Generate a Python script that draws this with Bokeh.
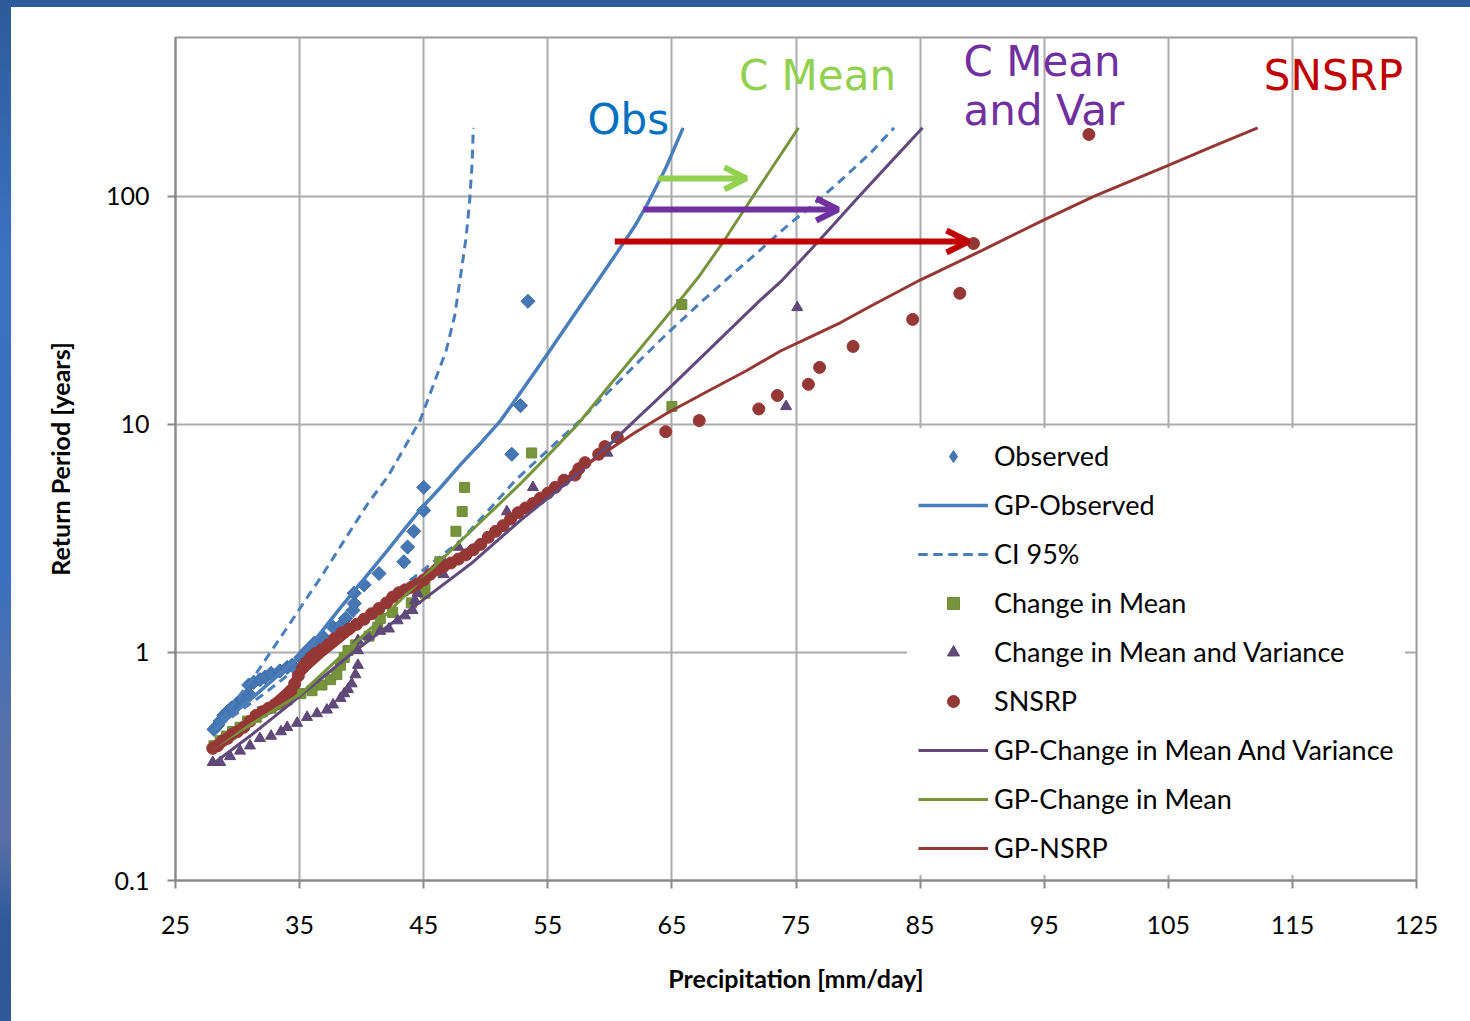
from bokeh.plotting import figure
from bokeh.models import (Range1d, FixedTicker, CustomJSTickFormatter, Legend, LegendItem,
                          Label, Arrow, OpenHead, Spacer)
from bokeh.layouts import column, row
from bokeh.embed import file_html
from bokeh.resources import INLINE

# ---------------- data ----------------
x_ticks = [25, 35, 45, 55, 65, 75, 85, 95, 105, 115, 125]
y_ticks = [0.1, 1, 10, 100]

# Observed (diamonds)
obs_x = [28.1, 28.4, 28.6, 28.9, 29.2, 29.5, 30.0, 30.4, 30.9, 30.9,
         31.3, 31.8, 32.2, 32.7, 33.4, 34.0, 34.4, 35.1, 35.6, 36.2,
         36.9, 37.7, 38.3, 38.7, 39.3, 39.4, 39.4, 40.2, 41.4, 43.4,
         43.7, 44.2, 45.0, 45.0, 52.1, 52.8, 53.4]
obs_y = [0.46, 0.48, 0.50, 0.53, 0.55, 0.57, 0.60, 0.62, 0.66, 0.72,
         0.74, 0.76, 0.78, 0.81, 0.83, 0.86, 0.88, 0.95, 1.02, 1.10,
         1.17, 1.29, 1.31, 1.41, 1.53, 1.64, 1.82, 1.98, 2.22, 2.5,
         2.9, 3.4, 4.2, 5.3, 7.4, 12.1, 34.7]

# GP-Observed
gpo_x = [28.1, 29.5, 31.0, 32.5, 34.0, 35.4, 36.8, 38.2, 40.1, 42.0, 43.5, 45.0, 46.5,
         48.0, 49.6, 51.2, 53.0, 55.0, 57.6, 59.0, 60.6, 62.0, 63.0, 64.5, 65.9]
gpo_y = [0.455, 0.53, 0.62, 0.73, 0.86, 1.0, 1.24, 1.55, 2.07, 2.77, 3.5, 4.4, 5.4,
         6.7, 8.3, 10.4, 14.3, 20.5, 33, 42.5, 57, 74, 92, 133, 200]

# CI 95% upper / lower
ciu_x = [28.6, 30.0, 31.3, 32.8, 34.3, 35.9, 36.7, 38.5, 40.5, 42.1,
         43.5, 44.7, 45.8, 46.8, 47.5, 48.0, 48.4, 48.7, 48.9, 49.0]
ciu_y = [0.5, 0.63, 0.78, 1.03, 1.36, 1.84, 2.13, 3.04, 4.5, 5.9,
         8.0, 10.4, 15, 21, 30, 46, 65, 95, 140, 200]
cil_x = [29.5, 32.0, 35.0, 38.0, 41.0, 43.9, 46.0, 48.0, 50.0, 52.4, 55.0, 57.6,
         60.0, 62.5, 64.6, 67.5, 69.7, 72.0, 74.5, 76.4, 79.0, 81.0, 82.9]
cil_y = [0.52, 0.65, 0.875, 1.17, 1.56, 2.07, 2.55, 3.1, 4.08, 5.7, 7.7, 10.4,
         14.1, 19.3, 25, 35, 44.7, 57.5, 76, 92, 123, 155, 200]

# Change in Mean (squares)
cm_x = [28.1, 28.6, 29.1, 29.6, 30.2, 30.8, 31.5, 32.0, 32.7, 33.3,
        34.0, 35.1, 36.0, 36.8, 37.5, 38.0, 38.3, 38.6, 38.9, 39.5,
        40.6, 41.3, 41.5, 42.5, 44.0, 45.1, 45.1, 46.3, 47.6, 48.1,
        48.3, 53.7, 65.0, 65.8]
cm_y = [0.39, 0.41, 0.43, 0.45, 0.47, 0.50, 0.52, 0.55, 0.57, 0.59,
        0.62, 0.66, 0.68, 0.72, 0.76, 0.80, 0.88, 0.95, 1.02, 1.08,
        1.18, 1.29, 1.41, 1.5, 1.65, 1.82, 2.0, 2.5, 3.4, 4.15,
        5.3, 7.5, 12.0, 33.6]

# Change in Mean and Variance (triangles)
mv_x = [28.0, 28.6, 29.4, 30.2, 31.0, 31.8, 32.7, 33.5, 34.0, 34.8,
        35.6, 36.4, 37.2, 37.7, 38.3, 38.6, 38.9, 39.2, 39.5, 39.7,
        39.7, 39.7, 40.5, 41.5, 42.2, 42.9, 43.5, 44.1, 44.3, 44.5,
        46.6, 46.6, 47.8, 51.7, 53.8, 59.8, 74.2, 75.1]
mv_y = [0.33, 0.33, 0.35, 0.37, 0.39, 0.42, 0.43, 0.45, 0.47, 0.49,
        0.52, 0.54, 0.56, 0.59, 0.63, 0.66, 0.69, 0.73, 0.80, 0.88,
        1.02, 1.13, 1.18, 1.24, 1.27, 1.38, 1.45, 1.53, 1.69, 1.82,
        2.2, 2.5, 2.9, 4.15, 5.3, 7.5, 12.0, 32.6]

# SNSRP (circles)
sn_x = [28.0, 28.4, 28.8, 29.2, 29.6, 30.0, 30.5, 31.0, 31.5, 32.0,
        32.5, 33.0, 33.5, 34.0, 34.3, 34.6, 34.9, 35.2, 35.5, 35.9,
        36.3, 36.8, 37.3, 37.8, 38.4, 39.0, 39.6, 40.2, 40.8, 41.4,
        42.0, 42.5, 43.0, 43.5, 44.0, 44.5, 45.0, 45.5, 46.0, 46.6,
        47.2, 47.8, 48.4, 49.0, 49.6, 50.2, 50.8, 51.4, 52.0, 52.6,
        53.2, 53.8, 54.4, 55.0, 55.6, 56.3, 57.2, 57.5, 58.0, 59.1,
        59.6, 60.6, 64.5, 67.2, 72.0, 73.5, 76.0, 76.9, 79.6, 84.4,
        88.2, 89.3, 98.6]
sn_y = [0.38, 0.39, 0.41, 0.42, 0.44, 0.45, 0.47, 0.50, 0.53, 0.55,
        0.57, 0.59, 0.61, 0.64, 0.68, 0.73, 0.79, 0.85, 0.90, 0.95,
        0.99, 1.03, 1.08, 1.15, 1.22, 1.27, 1.33, 1.40, 1.48, 1.56,
        1.65, 1.75, 1.83, 1.88, 1.93, 2.0, 2.08, 2.2, 2.3, 2.38,
        2.47, 2.57, 2.68, 2.82, 2.98, 3.2, 3.4, 3.6, 3.85, 4.1,
        4.3, 4.5, 4.75, 5.0, 5.3, 5.7, 6.0, 6.4, 6.8, 7.4,
        8.0, 8.8, 9.3, 10.4, 11.7, 13.4, 15.0, 17.8, 22.0, 28.9,
        37.6, 62.2, 187]

# GP fits
gmv_x = [28.2, 31.0, 34.0, 36.5, 39.3, 42.0, 45.0, 48.8, 52.8, 56.8, 59.7,
         62.0, 65.0, 68.0, 72.1, 73.9, 76.0, 78.0, 80.0, 82.5, 85.2]
gmv_y = [0.33, 0.43, 0.58, 0.75, 1.0, 1.29, 1.71, 2.45, 3.8, 5.7, 7.9,
         10.4, 14.8, 21.3, 35, 43, 57, 75, 99, 139, 200]
gm_x = [28.0, 30.0, 32.0, 35.1, 37.5, 40.0, 42.3, 44.0, 46.1, 48.0, 50.0,
        52.8, 55.0, 57.4, 60.0, 62.5, 65.2, 67.1, 69.0, 70.8, 73.0, 75.2]
gm_y = [0.38, 0.445, 0.52, 0.66, 0.873, 1.17, 1.53, 1.89, 2.45, 3.09, 3.93,
        5.5, 7.3, 10.0, 14.9, 21.7, 32.7, 44, 61.6, 87, 132, 200]
gn_x = [28.0, 31.0, 34.0, 37.0, 40.0, 43.0, 46.0, 50.0, 53.0, 56.0, 59.7, 62.0,
        64.6, 68.0, 71.0, 73.75, 76.0, 78.6, 81.0, 85.0, 90.0, 94.9, 99.0,
        102.0, 105.0, 108.5, 112.2]
gn_y = [0.38, 0.50, 0.70, 0.98, 1.33, 1.78, 2.3, 3.2, 4.2, 5.6, 7.6, 9.2,
        11.2, 14.1, 17.2, 21, 24.0, 28, 33, 43, 58, 78.6, 100,
        117, 137, 165, 200]

# annotation arrows (start x, end x, y)
arrow_x0 = [63.9, 62.7, 60.4]
arrow_x1 = [71.0, 78.4, 88.9]
arrow_y = [120, 87.7, 63.5]
arrow_colors = ["#92d050", "#7030a0", "#c00000"]

# annotation texts
ann_text = ["Obs", "C Mean", "C Mean", "and Var", "SNSRP"]
ann_x = [58.2, 70.4, 88.5, 88.5, 112.7]
ann_y = [217, 340, 391, 238, 340]
ann_colors = ["#0070c0", "#92d050", "#7030a0", "#7030a0", "#c00000"]

# ---------------- figure ----------------
p = figure(width=1459, height=1014, y_axis_type="log",
           x_range=Range1d(25, 125), y_range=Range1d(0.1, 498),
           output_backend="svg", toolbar_location=None,
           min_border_left=164, min_border_right=54, min_border_top=30,
           min_border_bottom=141)
p.background_fill_color = "white"
p.border_fill_color = "white"
p.outline_line_color = "#9a9a9a"
p.outline_line_width = 2

for ax in (p.xaxis[0], p.yaxis[0]):
    ax.axis_line_color = "#888888"
    ax.axis_line_width = 2
    ax.major_tick_line_color = "#888888"
    ax.major_tick_line_width = 2
    ax.major_tick_out = 8
    ax.major_tick_in = 0
    ax.minor_tick_line_color = None
    ax.major_label_text_font = "Lato"
    ax.major_label_text_font_size = "25px"
    ax.major_label_text_color = "#000000"
    ax.axis_label_text_font = "Lato"
    ax.axis_label_text_font_style = "bold"
    ax.axis_label_text_font_size = "25px"
    ax.axis_label_text_color = "#000000"

p.xaxis.ticker = FixedTicker(ticks=x_ticks)
p.yaxis.ticker = FixedTicker(ticks=y_ticks)
p.yaxis.formatter = CustomJSTickFormatter(code="return String(tick);")
p.xaxis.major_label_standoff = 27
p.yaxis.major_label_standoff = 18
p.xaxis.axis_label = "Precipitation [mm/day]"
p.yaxis.axis_label = "Return Period [years]"
p.xaxis.axis_label_standoff = 26
p.yaxis.axis_label_standoff = 28

p.xgrid.ticker = FixedTicker(ticks=x_ticks)
p.ygrid.ticker = FixedTicker(ticks=y_ticks)
for g in (p.xgrid[0], p.ygrid[0]):
    g.grid_line_color = "#ababab"
    g.grid_line_width = 2

blue = "#4a7ebb"
# legend-facing diamond (fully hidden underneath the rotated squares)
r_obs_leg = p.scatter(obs_x, obs_y, marker="diamond", size=12,
                      fill_color="#4577b5", line_color="#3d6ca6", line_width=1)
r_obs = p.scatter(obs_x, obs_y, marker="square", size=10, angle=0.785398,
                  fill_color="#4577b5", line_color="#3d6ca6", line_width=1)
r_gpo = p.line(gpo_x, gpo_y, line_color=blue, line_width=3.5)
r_ciu = p.line(ciu_x, ciu_y, line_color=blue, line_width=3, line_dash="9 6")
r_cil = p.line(cil_x, cil_y, line_color=blue, line_width=3, line_dash="9 6")
r_cm = p.scatter(cm_x, cm_y, marker="square", size=10,
                 fill_color="#77933c", line_color="#6f8a38", line_width=1)
r_mv = p.scatter(mv_x, mv_y, marker="triangle", size=11,
                 fill_color="#604a7b", line_color="#5a4573", line_width=1)
r_sn = p.scatter(sn_x, sn_y, marker="circle", size=12,
                 fill_color="#953735", line_color="#953735", line_width=1)
r_gmv = p.line(gmv_x, gmv_y, line_color="#604a7b", line_width=3)
r_gm = p.line(gm_x, gm_y, line_color="#77933c", line_width=3)
r_gn = p.line(gn_x, gn_y, line_color="#953735", line_width=3)

for x0, x1, y, c in zip(arrow_x0, arrow_x1, arrow_y, arrow_colors):
    p.add_layout(Arrow(end=OpenHead(size=22, line_width=6, line_color=c),
                       x_start=x0, y_start=y, x_end=x1, y_end=y,
                       line_width=6, line_color=c))

for t, x, y, c in zip(ann_text, ann_x, ann_y, ann_colors):
    p.add_layout(Label(x=x, y=y, text=t, text_color=c, text_font="DejaVu Sans",
                       text_font_size="42px", text_baseline="alphabetic",
                       text_align="left"))

items = [
    LegendItem(label="Observed", renderers=[r_obs_leg]),
    LegendItem(label="GP-Observed", renderers=[r_gpo]),
    LegendItem(label="CI 95%", renderers=[r_ciu, r_cil]),
    LegendItem(label="Change in Mean", renderers=[r_cm]),
    LegendItem(label="Change in Mean and Variance", renderers=[r_mv]),
    LegendItem(label="SNSRP", renderers=[r_sn]),
    LegendItem(label="GP-Change in Mean And Variance", renderers=[r_gmv]),
    LegendItem(label="GP-Change in Mean", renderers=[r_gm]),
    LegendItem(label="GP-NSRP", renderers=[r_gn]),
]
legend = Legend(items=items, location=(732, 5), orientation="vertical",
                label_text_font="Lato", label_text_font_size="27px",
                label_text_color="#000000", glyph_width=70, glyph_height=30,
                label_height=30, spacing=16, padding=11, margin=0,
                label_standoff=6, background_fill_color="white",
                background_fill_alpha=1.0, border_line_alpha=0)
p.add_layout(legend)

top_band = Spacer(width=1470, height=7, styles={"background": "#2d5b9c"})
left_band = Spacer(width=11, height=1014, styles={
    "background": "linear-gradient(to bottom, #2d5b9c 0%, #3d72c2 25%, #3a70c0 55%, "
                  "#5670a8 72%, #5a6fa5 82%, #2e5a9c 90%, #2c5898 100%)"})
layout = column(top_band, row(left_band, p))

open("out.html", "w").write(file_html(layout, INLINE))
